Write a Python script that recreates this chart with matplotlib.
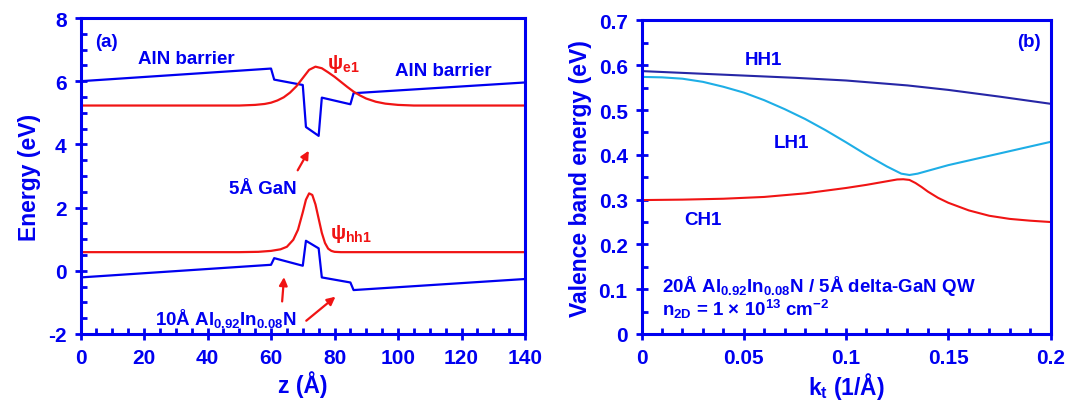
import matplotlib
matplotlib.use("Agg")
import matplotlib.pyplot as plt
from matplotlib.ticker import MultipleLocator, FormatStrFormatter

plt.rcParams['font.family'] = ['Liberation Sans', 'DejaVu Sans']
plt.rcParams['font.weight'] = 'bold'
plt.rcParams['axes.unicode_minus'] = False
plt.rcParams['mathtext.fontset'] = 'custom'
plt.rcParams['mathtext.rm'] = 'Liberation Sans:bold'
plt.rcParams['mathtext.it'] = 'Liberation Sans:bold'
plt.rcParams['mathtext.bf'] = 'Liberation Sans:bold'

# ---------------- data: panel (a) ----------------
z_band = [0, 60, 61, 70, 71, 75, 76, 85, 86, 140]
E_cb = [6.00, 6.40, 6.05, 5.88, 4.55, 4.27, 5.48, 5.27, 5.62, 5.96]
E_vb = [-0.21, 0.19, 0.40, 0.16, 0.95, 0.71, -0.21, -0.37, -0.61, -0.26]

z_e1 = [0, 50, 55, 58, 60, 62, 64, 66, 68, 70, 72, 74, 76, 78, 80, 82, 84, 86, 88, 90, 93, 96, 100, 105, 140]
psi_e1 = [5.23, 5.23, 5.25, 5.28, 5.32, 5.39, 5.49, 5.64, 5.84, 6.10, 6.36, 6.46, 6.41, 6.28, 6.14, 5.98, 5.82, 5.67, 5.55, 5.45, 5.35, 5.29, 5.25, 5.23, 5.23]

z_hh1 = [0, 50, 56, 60, 63, 65, 67, 68.5, 70, 71, 72, 73, 74, 75, 76, 77, 78, 79, 80, 82, 140]
psi_hh1 = [0.59, 0.59, 0.60, 0.63, 0.68, 0.76, 0.98, 1.30, 1.85, 2.25, 2.45, 2.40, 2.10, 1.65, 1.20, 0.88, 0.70, 0.63, 0.60, 0.59, 0.59]

# ---------------- data: panel (b) ----------------
k_hh = [0, 0.025, 0.05, 0.075, 0.1, 0.13, 0.15, 0.175, 0.2]
E_hh1 = [0.587, 0.582, 0.577, 0.572, 0.566, 0.555, 0.545, 0.530, 0.514]

k_lh = [0, 0.01, 0.02, 0.03, 0.04, 0.05, 0.06, 0.07, 0.08, 0.09, 0.1, 0.11, 0.12, 0.127, 0.131, 0.135, 0.15, 0.175, 0.2]
E_lh1 = [0.574, 0.573, 0.570, 0.563, 0.552, 0.539, 0.522, 0.502, 0.480, 0.455, 0.428, 0.400, 0.374, 0.358, 0.355, 0.358, 0.377, 0.403, 0.429]

k_ch = [0, 0.02, 0.04, 0.06, 0.08, 0.1, 0.11, 0.12, 0.125, 0.128, 0.131, 0.134, 0.137, 0.14, 0.145, 0.15, 0.16, 0.17, 0.18, 0.19, 0.2]
E_ch1 = [0.299, 0.300, 0.302, 0.306, 0.314, 0.326, 0.333, 0.341, 0.345, 0.3455, 0.344, 0.337, 0.328, 0.318, 0.304, 0.293, 0.276, 0.264, 0.257, 0.253, 0.250]

BLUE = '#0000f0'
RED = '#f01414'
NAVY = '#2626a6'
CYAN = '#1eaee6'

fig = plt.figure(figsize=(10.71, 4.06), dpi=100)
axa = fig.add_axes([0.0752, 0.1749, 0.415, 0.7783])
axb = fig.add_axes([0.599, 0.1749, 0.3819, 0.7722])


def style(ax):
    for s in ax.spines.values():
        s.set_color(BLUE)
        s.set_linewidth(2.2)
    ax.tick_params(which='major', direction='inout', length=8, width=2,
                   color=BLUE, labelcolor=BLUE, labelsize=15, pad=6)
    ax.tick_params(which='minor', direction='in', length=4, width=2, color=BLUE)
    ax.tick_params(top=False, right=False, which='both')
    for lab in ax.get_xticklabels() + ax.get_yticklabels():
        lab.set_fontweight('bold')


# ---------------- panel (a) ----------------
axa.plot(z_band, E_cb, color=BLUE, lw=1.6)
axa.plot(z_band, E_vb, color=BLUE, lw=1.6)
axa.plot(z_e1, psi_e1, color=RED, lw=1.6)
axa.plot(z_hh1, psi_hh1, color=RED, lw=1.6)
axa.set_xlim(0, 140)
axa.set_ylim(-2, 8)
axa.xaxis.set_major_locator(MultipleLocator(20))
axa.xaxis.set_minor_locator(MultipleLocator(5))
axa.yaxis.set_major_locator(MultipleLocator(2))
axa.yaxis.set_minor_locator(MultipleLocator(0.5))
style(axa)
axa.set_xlabel('z (Å)', color=BLUE, fontsize=16.5, fontweight='bold', labelpad=2)
axa.set_ylabel('Energy (eV)', color=BLUE, fontsize=16.5, fontweight='bold', labelpad=5)

tk = dict(color=BLUE, fontsize=13.5, fontweight='bold', va='center')
axa.text(4.5, 7.27, '(a)', ha='left', **tk)
axa.text(18, 6.73, 'AlN barrier', ha='left', **tk)
axa.text(99, 6.33, 'AlN barrier', ha='left', **tk)
axa.text(46.7, 2.62, '5Å GaN', ha='left', **tk)
axa.text(23.4, -1.48, '10Å Al$_{0.92}$In$_{0.08}$N', ha='left', **tk)
axa.text(77.6, 6.57, 'ψ$_{\\mathrm{e1}}$', ha='left', color=RED, fontsize=14.5,
         fontweight='bold', va='center')
axa.text(78.5, 1.19, 'ψ$_{\\mathrm{hh1}}$', ha='left', color=RED, fontsize=14.5,
         fontweight='bold', va='center')

arr = dict(arrowstyle='-|>', color=RED, lw=1.6, mutation_scale=12,
           shrinkA=0, shrinkB=0)
axa.annotate('', xy=(71.9, 3.80), xytext=(68.4, 3.18), arrowprops=arr)
axa.annotate('', xy=(64.1, -0.20), xytext=(63.5, -0.97), arrowprops=arr)
axa.annotate('', xy=(80.3, -0.82), xytext=(71.1, -1.58), arrowprops=arr)

# ---------------- panel (b) ----------------
axb.plot(k_hh, E_hh1, color=NAVY, lw=1.5)
axb.plot(k_lh, E_lh1, color=CYAN, lw=1.5)
axb.plot(k_ch, E_ch1, color=RED, lw=1.5)
axb.set_xlim(0, 0.2)
axb.set_ylim(0, 0.7)
axb.xaxis.set_major_locator(MultipleLocator(0.05))
axb.xaxis.set_minor_locator(MultipleLocator(0.01))
axb.yaxis.set_major_locator(MultipleLocator(0.1))
axb.yaxis.set_minor_locator(MultipleLocator(0.05))
axb.xaxis.set_major_formatter(FormatStrFormatter('%g'))
axb.yaxis.set_major_formatter(FormatStrFormatter('%g'))
style(axb)
axb.set_xlabel('k$_t$ (1/Å)', color=BLUE, fontsize=16.5, fontweight='bold', labelpad=2)
axb.set_ylabel('Valence band energy (eV)', color=BLUE, fontsize=16.5,
               fontweight='bold', labelpad=5)

axb.text(0.195, 0.652, '(b)', ha='right', **tk)
axb.text(0.0507, 0.613, 'HH1', ha='left', **tk)
axb.text(0.0648, 0.427, 'LH1', ha='left', **tk)
axb.text(0.0207, 0.256, 'CH1', ha='left', **tk)
axb.text(0.0102, 0.109, '20Å Al$_{0.92}$In$_{0.08}$N / 5Å delta-GaN QW', ha='left', **tk)
axb.text(0.0102, 0.056, 'n$_{\\mathrm{2D}}$ = 1 × 10$^{13}$ cm$^{-2}$', ha='left', **tk)

fig.savefig('out.png', dpi=100)
